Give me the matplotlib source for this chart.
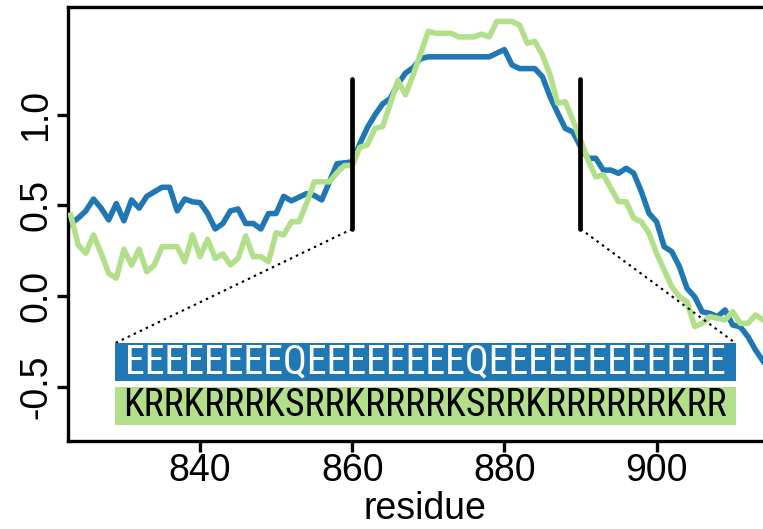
import matplotlib
matplotlib.use("Agg")
import matplotlib.pyplot as plt
from matplotlib.patches import Rectangle
from matplotlib import font_manager

residues = list(range(823, 915))
blue_vals = [0.40, 0.43, 0.47, 0.535, 0.485, 0.42, 0.51, 0.415, 0.53, 0.485,
             0.55, 0.575, 0.60, 0.60, 0.47, 0.535, 0.52, 0.515, 0.455, 0.37,
             0.40, 0.47, 0.48, 0.40, 0.40, 0.37, 0.455, 0.455, 0.55, 0.525,
             0.545, 0.565, 0.555, 0.53, 0.63, 0.73, 0.735, 0.74, 0.84, 0.93,
             1.00, 1.06, 1.09, 1.17, 1.23, 1.26, 1.31, 1.32, 1.32, 1.32,
             1.32, 1.32, 1.32, 1.32, 1.32, 1.32, 1.34, 1.36, 1.275, 1.255,
             1.255, 1.255, 1.21, 1.10, 1.01, 0.925, 0.905, 0.825, 0.76, 0.76,
             0.695, 0.695, 0.677, 0.705, 0.677, 0.576, 0.456, 0.41, 0.272, 0.245,
             0.162, 0.042, -0.004, -0.087, -0.096, -0.114, -0.077, -0.16, -0.17, -0.224,
             -0.298, -0.36]
green_vals = [0.447, 0.281, 0.236, 0.337, 0.236, 0.125, 0.098, 0.258, 0.171, 0.258,
              0.134, 0.171, 0.272, 0.272, 0.272, 0.189, 0.337, 0.217, 0.313, 0.208,
              0.232, 0.171, 0.208, 0.331, 0.217, 0.217, 0.189, 0.349, 0.337, 0.41,
              0.41, 0.51, 0.63, 0.63, 0.63, 0.68, 0.72, 0.72, 0.82, 0.835,
              0.925, 0.935, 1.06, 1.19, 1.11, 1.22, 1.34, 1.46, 1.45, 1.45,
              1.45, 1.43, 1.43, 1.43, 1.445, 1.43, 1.515, 1.515, 1.515, 1.495,
              1.395, 1.405, 1.33, 1.22, 1.063, 1.072, 0.971, 0.861, 0.75, 0.658,
              0.668, 0.594, 0.52, 0.52, 0.429, 0.41, 0.346, 0.236, 0.143, 0.051,
              -0.004, -0.031, -0.169, -0.151, -0.114, -0.123, -0.132, -0.087, -0.151, -0.151,
              -0.105, -0.132]

x_ticks = [840, 860, 880, 900]
y_ticks = [-0.5, 0.0, 0.5, 1.0]
y_tick_labels = ["-0.5", "0.0", "0.5", "1.0"]
x_label = "residue"

window_start, window_end = 860, 890
bar_low, bar_high = 0.37, 1.2
box_left, box_right = 828.8, 910.4
blue_box = (-0.469, -0.261)
green_box = (-0.712, -0.50)
blue_seq = "EEEEEEEEQEEEEEEEEQEEEEEEEEEEEE"
green_seq = "KRRKRRRKSRRKRRRRKSRRKRRRRRRKRR"

BLUE = "#1f78b4"
GREEN = "#b2df8a"

plt.rcParams["font.family"] = ["Liberation Sans", "DejaVu Sans"]

available = {f.name for f in font_manager.fontManager.ttflist}
seq_family = "DejaVu Sans"
for cand in ["Liberation Sans Narrow", "Roboto Condensed", "Open Sans Condensed",
             "Noto Sans Display"]:
    if cand in available:
        seq_family = cand
        break

W, H = 763, 529
fig = plt.figure(figsize=(W / 100, H / 100), dpi=100)
left_px, right_px, top_px, bot_px = 68.3, 781.0, 6.7, 440.7
ax = fig.add_axes([left_px / W, 1 - bot_px / H, (right_px - left_px) / W, (bot_px - top_px) / H])

ax.plot(residues, blue_vals, color=BLUE, lw=4.0, solid_joinstyle="round", zorder=2)
ax.plot(residues, green_vals, color=GREEN, lw=4.0, solid_joinstyle="round", zorder=3)

for xv in (window_start, window_end):
    ax.plot([xv, xv], [bar_low, bar_high], color="black", lw=3.4,
            solid_capstyle="round", zorder=5)

ax.plot([window_start, box_left], [bar_low, blue_box[1]], color="black", lw=1.5,
        linestyle=(0, (1.2, 2.0)), zorder=6)
ax.plot([window_end, box_right], [bar_low, blue_box[1]], color="black", lw=1.5,
        linestyle=(0, (1.2, 2.0)), zorder=6)

for (lo, hi), col in ((blue_box, BLUE), (green_box, GREEN)):
    ax.add_patch(Rectangle((box_left, lo), box_right - box_left, hi - lo,
                           facecolor=col, edgecolor="none", zorder=7))

cx = (box_left + box_right) / 2
t1 = ax.text(cx, sum(blue_box) / 2, blue_seq, color="white", ha="center", va="center",
             fontsize=23, family=[seq_family, "DejaVu Sans"], zorder=8)
t2 = ax.text(cx, sum(green_box) / 2, green_seq, color="black", ha="center", va="center",
             fontsize=23, family=[seq_family, "DejaVu Sans"], zorder=8)

ax.set_xlim(822.69, 916.35)
ax.set_ylim(-0.7986, 1.5966)
ax.set_xticks(x_ticks)
ax.set_xticklabels([str(v) for v in x_ticks])
ax.set_yticks(y_ticks)
ax.set_yticklabels(y_tick_labels, rotation=90, va="center")
ax.tick_params(axis="both", length=8, width=2.4, labelsize=27, color="black")
ax.tick_params(axis="x", pad=1)
ax.tick_params(axis="y", pad=2)
for sp in ax.spines.values():
    sp.set_linewidth(2.4)
ax.set_xlabel(x_label, fontsize=27, labelpad=1)

# fit sequence text to the box width
fig.canvas.draw()
r = fig.canvas.get_renderer()
target = 608.0
for t in (t1, t2):
    w = t.get_window_extent(r).width
    t.set_fontsize(min(t.get_fontsize() * target / w, 32))

fig.savefig("out.png", dpi=100)
